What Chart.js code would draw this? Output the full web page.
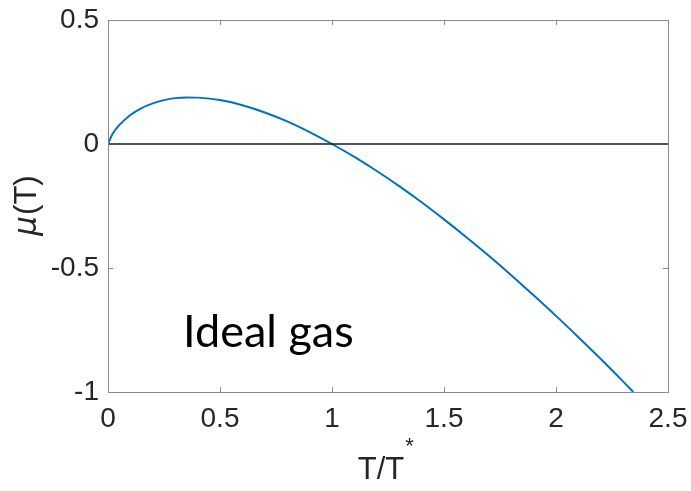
<!DOCTYPE html>
<html lang="en">
<head>
  <meta charset="UTF-8">
  <title>Ideal gas chemical potential</title>
  <script src="https://cdn.jsdelivr.net/npm/chart.js"></script>
  <style>
    html, body { margin: 0; padding: 0; background: #ffffff; }
    #wrap { width: 691px; height: 491px; }
  </style>
</head>
<body>
  <div id="wrap"><canvas id="muChart" width="691" height="491"></canvas></div>

  <script>
    // values
    const tValues  = [0, 0.02, 0.05, 0.1, 0.15, 0.2, 0.25, 0.3, 0.35, 0.4, 0.5, 0.6, 0.7, 0.8, 0.9,
                      1.0, 1.1, 1.2, 1.3, 1.4, 1.5, 1.6, 1.7, 1.8, 1.9, 2.0, 2.1, 2.2, 2.3, 2.345];
    const muValues = [0, 0.040, 0.076, 0.117, 0.145, 0.164, 0.177, 0.185, 0.188, 0.187, 0.177, 0.156, 0.127, 0.091, 0.048,
                      0, -0.052, -0.109, -0.170, -0.235, -0.304, -0.376, -0.451, -0.529, -0.610, -0.693, -0.779, -0.867, -0.958, -1.0];
    const zeroLineX = [0, 2.5];
    const zeroLineY = [0, 0];
    const xTicks = [0, 0.5, 1, 1.5, 2, 2.5];
    const yTicks = [-1, -0.5, 0, 0.5];

    const axisGray = '#8a8a8a';
    const tickFont = { family: '"Liberation Sans", Arial, sans-serif', size: 28, lineHeight: 1 };

    const framePlugin = {
      id: 'frame',
      afterDatasetsDraw(chart) {
        const { ctx, chartArea: a, scales: { x, y } } = chart;
        ctx.save();
        ctx.strokeStyle = axisGray;
        ctx.lineWidth = 1;
        ctx.strokeRect(a.left + 0.5, a.top + 0.5, a.right - a.left, a.bottom - a.top);
        // inward ticks on all four sides
        ctx.beginPath();
        xTicks.forEach(v => {
          const px = Math.round(x.getPixelForValue(v)) + 0.5;
          ctx.moveTo(px, a.bottom); ctx.lineTo(px, a.bottom - 5);
          ctx.moveTo(px, a.top); ctx.lineTo(px, a.top + 5);
        });
        yTicks.forEach(v => {
          if (v === 0) return;
          const py = Math.round(y.getPixelForValue(v)) + 0.5;
          ctx.moveTo(a.left, py); ctx.lineTo(a.left + 5, py);
          ctx.moveTo(a.right, py); ctx.lineTo(a.right - 5, py);
        });
        ctx.stroke();

        // annotation
        ctx.fillStyle = '#000000';
        ctx.font = '45px Lato, "Open Sans", sans-serif';
        ctx.textAlign = 'left';
        ctx.textBaseline = 'alphabetic';
        ctx.fillText('Ideal gas', x.getPixelForValue(0.335), y.getPixelForValue(-0.817));

        // x axis title T/T*
        ctx.fillStyle = '#262626';
        ctx.font = '31px "Liberation Sans", Arial, sans-serif';
        const main = 'T/T';
        const w = ctx.measureText(main).width;
        const cx = 381;
        ctx.fillText(main, cx - w / 2, 479);
        ctx.font = '22px "Liberation Sans", Arial, sans-serif';
        ctx.fillText('*', cx + w / 2 + 1, 453);

        // y axis title mu(T)
        ctx.save();
        ctx.translate(36, 206);
        ctx.rotate(-Math.PI / 2);
        ctx.textAlign = 'left';
        const muFont = 'italic 31px "DejaVu Sans", sans-serif';
        const restFont = '31px "Liberation Sans", Arial, sans-serif';
        ctx.font = muFont;
        const wm = ctx.measureText('\u03bc').width;
        ctx.font = restFont;
        const wr = ctx.measureText('(T)').width;
        const start = -(wm + wr) / 2;
        ctx.font = muFont;
        ctx.fillText('\u03bc', start, 0);
        ctx.font = restFont;
        ctx.fillText('(T)', start + wm + 1, 0);
        ctx.restore();

        ctx.restore();
      }
    };

    new Chart(document.getElementById('muChart'), {
      type: 'scatter',
      data: {
        datasets: [
          {
            label: 'zero',
            data: zeroLineX.map((t, i) => ({ x: t, y: zeroLineY[i] })),
            showLine: true,
            borderColor: '#1a1a1a',
            borderWidth: 1.5,
            pointRadius: 0
          },
          {
            label: 'mu(T)',
            data: tValues.map((t, i) => ({ x: t, y: muValues[i] })),
            showLine: true,
            borderColor: '#0072BD',
            borderWidth: 2,
            pointRadius: 0,
            cubicInterpolationMode: 'monotone'
          }
        ]
      },
      options: {
        responsive: false,
        animation: false,
        events: [],
        layout: { padding: { left: 0, right: 23, top: 20, bottom: 0 } },
        plugins: {
          legend: { display: false },
          tooltip: { enabled: false }
        },
        scales: {
          x: {
            type: 'linear',
            min: 0,
            max: 2.5,
            afterBuildTicks: s => { s.ticks = xTicks.map(v => ({ value: v })); },
            afterFit: s => { s.height = 99; s.paddingLeft = 0; s.paddingRight = 0; },
            grid: { display: false, drawTicks: false },
            border: { display: false },
            ticks: { font: tickFont, color: '#262626', padding: 13, callback: v => String(v) }
          },
          y: {
            type: 'linear',
            min: -1,
            max: 0.5,
            afterBuildTicks: s => { s.ticks = yTicks.map(v => ({ value: v })); },
            afterFit: s => { s.width = 108; s.paddingTop = 0; s.paddingBottom = 0; },
            grid: { display: false, drawTicks: false },
            border: { display: false },
            ticks: { font: tickFont, color: '#262626', padding: 9, callback: v => String(v) }
          }
        }
      },
      plugins: [framePlugin]
    });
  </script>
</body>
</html>
